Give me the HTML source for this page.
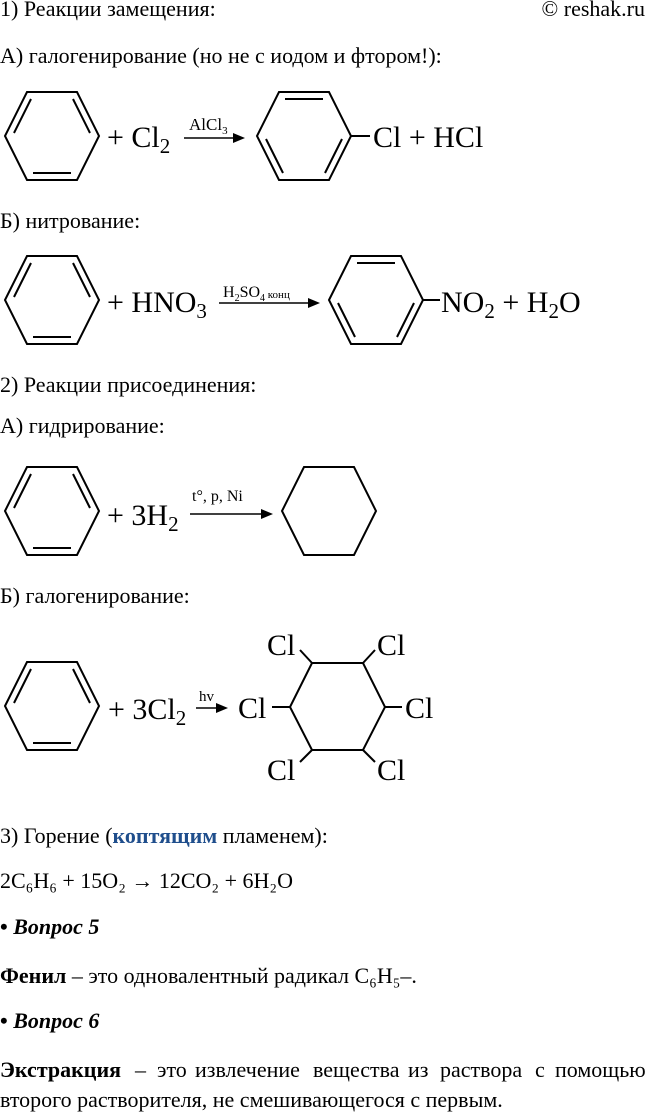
<!DOCTYPE html>
<html><head><meta charset="utf-8"><style>
html,body{margin:0;padding:0;background:#fff;}
svg{display:block;}
text{font-family:"Liberation Serif",serif;fill:#000;}
.t{font-size:22px;}
.c{font-size:30px;}
</style></head><body>
<svg width="648" height="1113" viewBox="0 0 648 1113" xmlns="http://www.w3.org/2000/svg">
<g stroke="#000" stroke-width="2" fill="none">
<!-- R1 benzene -->
<polygon points="5,136 27,92 77,92 99,136 77,180 27,180"/>
<line x1="14" y1="133" x2="31" y2="99"/><line x1="90" y1="133" x2="73" y2="99"/><line x1="33" y1="173" x2="71" y2="173"/>
<!-- R1 product -->
<polygon points="257,136 279,92 329,92 351,136 329,180 279,180"/>
<line x1="285" y1="99" x2="323" y2="99"/><line x1="266" y1="139" x2="283" y2="173"/><line x1="342" y1="139" x2="325" y2="173"/>
<line x1="351" y1="136" x2="370" y2="136"/>
<line x1="184" y1="138" x2="236" y2="138" stroke-width="1.5"/>
<!-- R2 -->
<polygon points="5,300 27,256 77,256 99,300 77,344 27,344"/>
<line x1="14" y1="297" x2="31" y2="263"/><line x1="90" y1="297" x2="73" y2="263"/><line x1="33" y1="337" x2="71" y2="337"/>
<polygon points="329,300 351,256 401,256 423,300 401,344 351,344"/>
<line x1="357" y1="263" x2="395" y2="263"/><line x1="338" y1="303" x2="355" y2="337"/><line x1="414" y1="303" x2="397" y2="337"/>
<line x1="423" y1="300" x2="440" y2="300"/>
<line x1="219" y1="303" x2="310" y2="303" stroke-width="1.5"/>
<!-- R3 -->
<polygon points="5,511 27,467 77,467 99,511 77,555 27,555"/>
<line x1="14" y1="508" x2="31" y2="474"/><line x1="90" y1="508" x2="73" y2="474"/><line x1="33" y1="548" x2="71" y2="548"/>
<polygon points="282,511 304,467 354,467 376,511 354,555 304,555"/>
<line x1="190" y1="514" x2="264" y2="514" stroke-width="1.5"/>
<!-- R4 -->
<polygon points="5,706 27,662 77,662 99,706 77,750 27,750"/>
<line x1="14" y1="703" x2="31" y2="669"/><line x1="90" y1="703" x2="73" y2="669"/><line x1="33" y1="743" x2="71" y2="743"/>
<polygon points="290,707 312,663 363,663 385,707 363,750 312,750"/>
<line x1="272" y1="707" x2="290" y2="707"/><line x1="385" y1="707" x2="402" y2="707"/>
<line x1="312" y1="663" x2="300" y2="650"/><line x1="363" y1="663" x2="375" y2="650"/>
<line x1="312" y1="750" x2="300" y2="762"/><line x1="363" y1="750" x2="375" y2="762"/>
<line x1="196" y1="708" x2="220" y2="708" stroke-width="1.5"/>
</g>
<g fill="#000">
<polygon points="245,138 233,133 233,143"/>
<polygon points="320,303 308,298 308,308"/>
<polygon points="273,514 261,509 261,519"/>
<polygon points="228,708 216,703 216,713"/>
</g>
<text class="t" x="0" y="16">1) Реакции замещения:</text>
<text class="t" x="645" y="16" text-anchor="end">© reshak.ru</text>
<text class="t" x="0" y="63">А) галогенирование (но не с иодом и фтором!):</text>
<text class="c" x="107" y="147">+ Cl<tspan font-size="21" dy="6">2</tspan></text>
<text x="189" y="130" font-size="17">AlCl<tspan font-size="11" dy="4">3</tspan></text>
<text class="c" x="373" y="147">Cl + HCl</text>
<text class="t" x="0" y="228">Б) нитрование:</text>
<text class="c" x="107" y="312">+ HNO<tspan font-size="21" dy="6">3</tspan></text>
<text x="223" y="297" font-size="16">H<tspan font-size="10" dy="4">2</tspan><tspan dy="-4">SO</tspan><tspan font-size="10" dy="4">4</tspan><tspan font-size="11" dy="-3"> конц</tspan></text>
<text class="c" x="441" y="312">NO<tspan font-size="21" dy="6">2</tspan><tspan dy="-6"> + H</tspan><tspan font-size="21" dy="6">2</tspan><tspan dy="-6">O</tspan></text>
<text class="t" x="0" y="392">2) Реакции присоединения:</text>
<text class="t" x="0" y="433">А) гидрирование:</text>
<text class="c" x="107" y="525">+ 3H<tspan font-size="21" dy="6">2</tspan></text>
<text x="192" y="501" font-size="16">t°, p, Ni</text>
<text class="t" x="0" y="603">Б) галогенирование:</text>
<text class="c" x="108" y="719">+ 3Cl<tspan font-size="21" dy="6">2</tspan></text>
<text x="199" y="701" font-size="15">hv</text>
<text class="c" x="238" y="718">Cl</text>
<text class="c" x="267" y="655">Cl</text>
<text class="c" x="377" y="655">Cl</text>
<text class="c" x="405" y="718">Cl</text>
<text class="c" x="267" y="780">Cl</text>
<text class="c" x="377" y="780">Cl</text>
<text class="t" x="0" y="843">3) Горение (<tspan font-weight="bold" fill="#1f4e8c">коптящим</tspan> пламенем):</text>
<text class="t" x="0" y="888">2C₆H₆ + 15O₂ → 12CO₂ + 6H₂O</text>
<text class="t" x="0" y="934" font-weight="bold">• <tspan font-style="italic">Вопрос 5</tspan></text>
<text class="t" x="0" y="983"><tspan font-weight="bold">Фенил</tspan> – это одновалентный радикал C₆H₅–.</text>
<text class="t" x="0" y="1028" font-weight="bold">• <tspan font-style="italic">Вопрос 6</tspan></text>
<text class="t" y="1077"><tspan x="0" font-weight="bold">Экстракция</tspan><tspan x="135">–</tspan><tspan x="157">это</tspan><tspan x="195">извлечение</tspan><tspan x="313">вещества</tspan><tspan x="408">из</tspan><tspan x="440">раствора</tspan><tspan x="535">с</tspan><tspan x="555">помощью</tspan></text>
<text class="t" x="0" y="1107">второго растворителя, не смешивающегося с первым.</text>
</svg>
</body></html>
